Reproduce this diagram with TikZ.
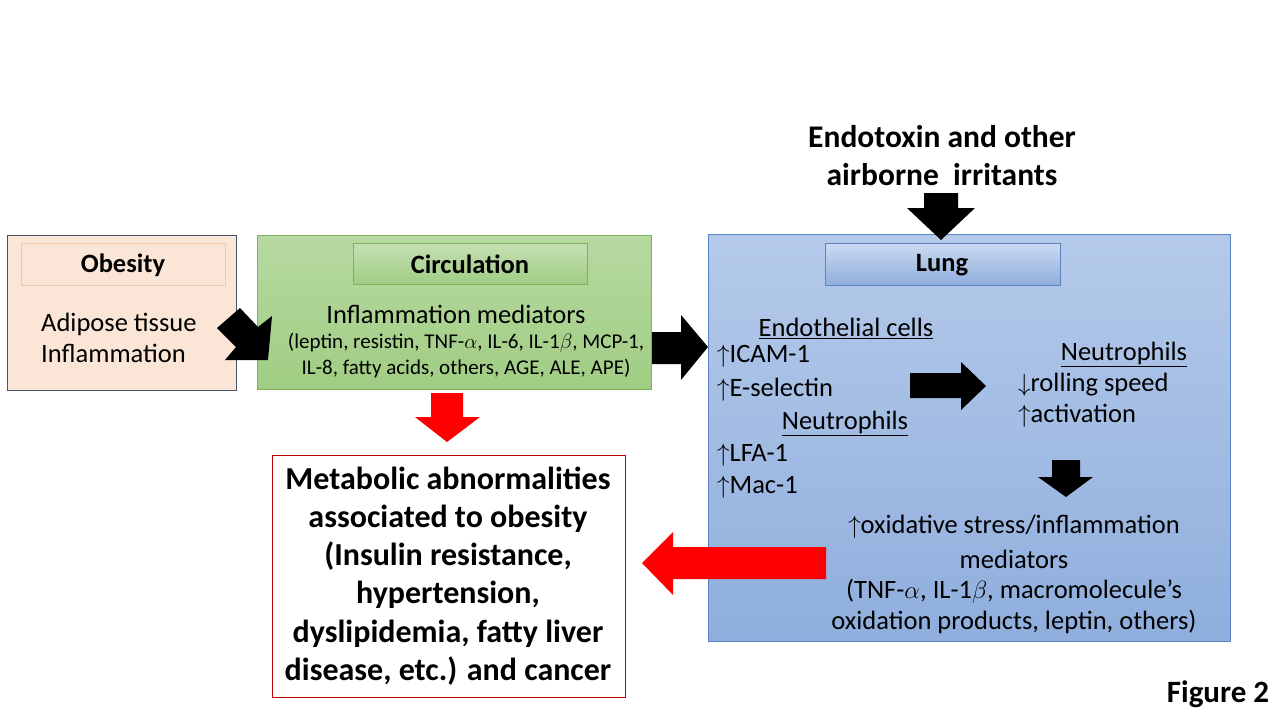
\documentclass[tikz,border=0pt]{standalone}
\usepackage{fontspec}
\setmainfont{Carlito}
\newcommand{\fsz}[2]{\fontsize{#1}{#2}\selectfont}
\newcommand{\up}{$\uparrow$}
\newcommand{\dn}{$\downarrow$}
\definecolor{peach}{HTML}{FBE5D6}
\definecolor{peachline}{HTML}{F4C7A8}
\definecolor{slate}{HTML}{44546A}
\definecolor{greenA}{HTML}{B7D9A1}
\definecolor{greenB}{HTML}{A0CD83}
\definecolor{greenline}{HTML}{7DB35A}
\definecolor{blueA}{HTML}{B5CAEA}
\definecolor{blueB}{HTML}{8FAEDD}
\definecolor{blueline}{HTML}{5B84C0}
\definecolor{darkred}{HTML}{C00000}
\tikzset{
  box/.style={draw, line width=0.9pt, inner sep=0},
  txt/.style={inner sep=0, font=\fsz{26.5}{31}},
  small/.style={inner sep=0, font=\fsz{21}{26}},
  hdr/.style={inner sep=0, font=\fsz{26.5}{30}\bfseries},
  blk/.style={fill=black},
  redblk/.style={fill=red},
}
\begin{document}
\begin{tikzpicture}[x=1pt,y=-1pt]
\useasboundingbox (0,0) rectangle (1280,720);
\fill[white] (0,0) rectangle (1280,720);

% Obesity box
\draw[box, fill=peach, draw=slate] (7,235) rectangle (236,390);
\draw[draw=peachline, line width=0.7pt] (21,243) rectangle (225,285);
\node[hdr] (obes) at (123,265) {Obesity};
\node[txt, align=left, anchor=west] (adip) at (41,338) {Adipose tissue\\Inflammation};

% Circulation box
\shade[top color=greenA, bottom color=greenB] (257,235) rectangle (651,389);
\draw[draw=greenline, line width=0.8pt] (257,235) rectangle (651,389);
\shade[top color=greenA!80!white, bottom color=greenB] (353,243) rectangle (587,284);
\draw[draw=greenline, line width=0.7pt] (353,243) rectangle (587,284);
\node[hdr] (circ) at (470,264) {Circulation};
\node[txt] (med) at (456,314) {Inflammation mediators};
\node[small, align=center] (medl) at (466,356) {(leptin, resistin, TNF-$\alpha$, IL-6, IL-1$\beta$, MCP-1,\\IL-8, fatty acids, others, AGE, ALE, APE)};

% Lung box
\shade[top color=blueA, bottom color=blueB] (708,234) rectangle (1230,641);
\draw[draw=blueline, line width=0.8pt] (708,234) rectangle (1230,641);
\shade[top color=blueA!70!white, bottom color=blueB] (825,243) rectangle (1060,285);
\draw[draw=blueline, line width=0.7pt] (825,243) rectangle (1060,285);
\node[hdr] (lung) at (942,265) {Lung};

\node[txt] (endo) at (846,328) {\underline{Endothelial cells}};
\node[txt, anchor=west] (icam) at (717,356) {\up ICAM-1};
\node[txt, anchor=west] (esel) at (717,390) {\up E-selectin};
\node[txt] (neut1) at (845,423) {\underline{Neutrophils}};
\node[txt, anchor=west] (lfa) at (717,455) {\up LFA-1};
\node[txt, anchor=west] (mac) at (717,487) {\up Mac-1};

\node[txt] (neut2) at (1124,354) {\underline{Neutrophils}};
\node[txt, anchor=west] (roll) at (1018,385) {\dn rolling speed};
\node[txt, anchor=west] (act) at (1018,416) {\up activation};

\node[txt] (ox1) at (1014,527) {\up oxidative stress/inflammation};
\node[txt] (ox2) at (1014,559) {mediators};
\node[txt] (ox3) at (1014,591) {(TNF-$\alpha$, IL-1$\beta$, macromolecule’s};
\node[txt] (ox4) at (1014,622) {oxidation products, leptin, others)};

% Metabolic box
\draw[box, draw=darkred, fill=white] (272,455) rectangle (625,697);
\node[inner sep=0, font=\fsz{32}{38.2}\bfseries, align=center] (meta) at (448,576)
  {Metabolic abnormalities\\associated to obesity\\(Insulin resistance,\\hypertension,\\dyslipidemia, fatty liver\\disease, etc.) and cancer};

% Endotoxin
\node[inner sep=0, font=\fsz{31.5}{38}\bfseries, align=center] (endot) at (942,156)
  {Endotoxin and other\\airborne\ \ irritants};

% Figure label
\node[inner sep=0, font=\fsz{31}{36}\bfseries] (fig) at (1218,694) {Figure 2};

% Block arrows
% obesity -> circulation (diagonal)
\fill[blk] (240,308) -- (258,327) -- (272,316) -- (268,360) -- (225,360) -- (236,347) -- (217,328) -- cycle;
% circulation -> lung
\fill[blk] (652,332) -- (681,332) -- (681,315) -- (708,347) -- (681,380) -- (681,364) -- (652,364) -- cycle;
% endotoxin -> lung
\fill[blk] (924,193) -- (958,193) -- (958,208) -- (975,208) -- (941,240) -- (907,208) -- (924,208) -- cycle;
% endothelial -> neutrophils
\fill[blk] (910,373) -- (961,373) -- (961,362) -- (986,386) -- (961,410) -- (961,398) -- (910,398) -- cycle;
% neutrophils -> oxidative
\fill[blk] (1052,460) -- (1080,460) -- (1080,477) -- (1093,477) -- (1066,497) -- (1038,477) -- (1052,477) -- cycle;
% circulation -> metabolic (red)
\fill[redblk] (431,393) -- (463,393) -- (463,417) -- (480,417) -- (447,442) -- (415,417) -- (431,417) -- cycle;
% lung -> metabolic (red)
\fill[redblk] (826,547) -- (673,547) -- (673,532) -- (642,563) -- (673,595) -- (673,579) -- (826,579) -- cycle;
\end{tikzpicture}
\end{document}
